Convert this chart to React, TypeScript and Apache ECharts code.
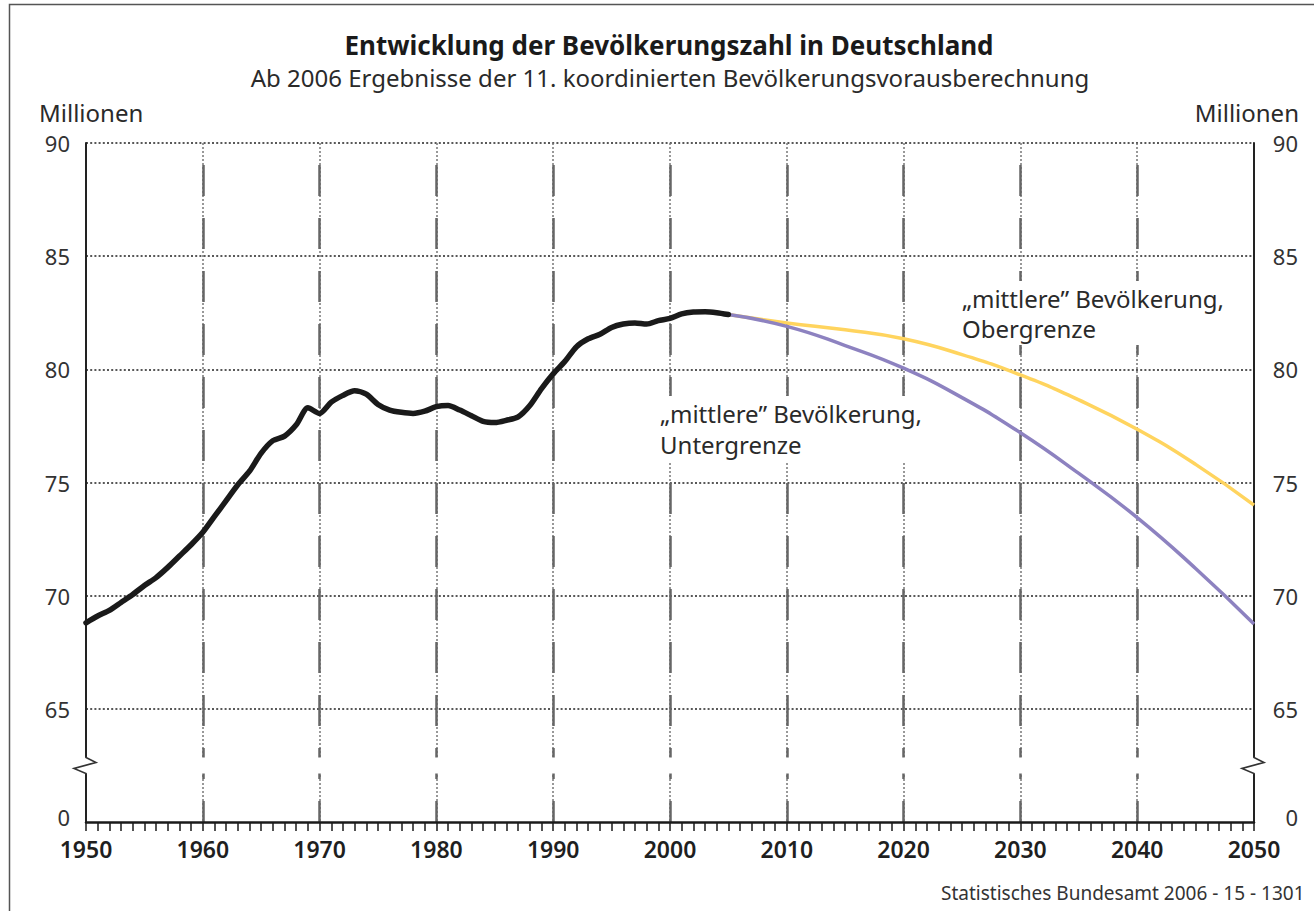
import { useEffect, useRef } from "react";
import * as echarts from "echarts";

// ---------- data ----------
const histYears = [
  1950, 1951, 1952, 1953, 1954, 1955, 1956, 1957, 1958, 1959,
  1960, 1961, 1962, 1963, 1964, 1965, 1966, 1967, 1968, 1969,
  1970, 1971, 1972, 1973, 1974, 1975, 1976, 1977, 1978, 1979,
  1980, 1981, 1982, 1983, 1984, 1985, 1986, 1987, 1988, 1989,
  1990, 1991, 1992, 1993, 1994, 1995, 1996, 1997, 1998, 1999,
  2000, 2001, 2002, 2003, 2004, 2005,
];
const histValues = [
  68.8, 69.1, 69.35, 69.7, 70.05, 70.45, 70.8, 71.25, 71.75, 72.25,
  72.8, 73.5, 74.2, 74.9, 75.5, 76.3, 76.85, 77.05, 77.55, 78.3,
  78.05, 78.55, 78.85, 79.05, 78.9, 78.45, 78.2, 78.1, 78.05, 78.15,
  78.35, 78.4, 78.2, 77.95, 77.7, 77.65, 77.75, 77.9, 78.4, 79.15,
  79.8, 80.35, 81.0, 81.35, 81.55, 81.85, 82.0, 82.05, 82.0, 82.15,
  82.25, 82.45, 82.53, 82.54, 82.5, 82.42,
];
const projYears = [2005, 2010, 2015, 2020, 2025, 2030, 2035, 2040, 2045, 2050];
const lowerValues = [82.42, 81.9, 81.05, 80.05, 78.75, 77.2, 75.4, 73.45, 71.2, 68.75];
const upperValues = [82.42, 82.05, 81.75, 81.35, 80.65, 79.75, 78.65, 77.35, 75.8, 74.0];

const yMin = 60; // shown as "0" (broken axis)
const yMax = 90;
const yStep = 5;
const xMin = 1950;
const xMax = 2050;
const xStep = 10;

const titleText = "Entwicklung der Bevölkerungszahl in Deutschland";
const subtitleText = "Ab 2006 Ergebnisse der 11. koordinierten Bevölkerungsvorausberechnung";
const unitText = "Millionen";
const lowerLabel = "„mittlere” Bevölkerung,\nUntergrenze";
const upperLabel = "„mittlere” Bevölkerung,\nObergrenze";
const sourceText = "Statistisches Bundesamt 2006 - 15 - 1301";

const FONT = "'Noto Sans', 'Open Sans', sans-serif";

const pairs = (xs: number[], ys: number[]) => xs.map((x, i) => [x, ys[i]]);

export default function App() {
  const ref = useRef<HTMLDivElement>(null);

  useEffect(() => {
    if (!ref.current) return;
    const chart = echarts.init(ref.current, undefined, { renderer: "svg" });

    const yLabel = (v: number) => (v === yMin ? "{z|0}" : String(v));
    const yRich = {
      z: { fontSize: 22, color: "#333", fontFamily: FONT, padding: [0, 0, 10, 0] },
    };

    const option: any = {
      animation: false,
      backgroundColor: "#ffffff",
      grid: { left: 86, right: 60, top: 143, bottom: 89, containLabel: false },
      xAxis: [
        {
          type: "value",
          min: xMin,
          max: xMax,
          interval: xStep,
          position: "bottom",
          axisLine: { show: true, onZero: false, lineStyle: { color: "#1a1a1a", width: 2.5 } },
          axisTick: { show: true, length: 9, lineStyle: { color: "#1a1a1a", width: 1.5 } },
          minorTick: { show: true, splitNumber: 10, length: 9, lineStyle: { color: "#1a1a1a", width: 1.5 } },
          axisLabel: {
            margin: 17,
            fontSize: 23,
            lineHeight: 20,
            fontWeight: 600,
            color: "#1f1f1f",
            fontFamily: FONT,
            formatter: (v: number) => String(v),
          },
          splitLine: {
            show: true,
            showMinLine: false,
            showMaxLine: false,
            lineStyle: { color: "#777777", width: 1.5, type: [2, 2] },
          },
        },
        {
          type: "value",
          min: xMin,
          max: xMax,
          interval: xStep,
          position: "top",
          axisLine: { show: false },
          axisTick: { show: false },
          axisLabel: { show: false },
          splitLine: {
            show: true,
            showMinLine: false,
            showMaxLine: false,
            lineStyle: { color: "#666666", width: 2.5, type: [31, 22], dashOffset: 31 },
          },
        },
      ],
      yAxis: [
        {
          type: "value",
          min: yMin,
          max: yMax,
          interval: yStep,
          position: "left",
          axisLine: { show: true, lineStyle: { color: "#222", width: 2 } },
          axisTick: { show: false },
          axisLabel: {
            margin: 16,
            fontSize: 22,
            lineHeight: 16,
            color: "#333",
            fontFamily: FONT,
            formatter: yLabel,
            rich: yRich,
          },
          splitLine: {
            show: true,
            showMinLine: false,
            lineStyle: { color: "#222", width: 1.5, type: [2, 2.2] },
          },
        },
        {
          type: "value",
          min: yMin,
          max: yMax,
          interval: yStep,
          position: "right",
          axisLine: { show: true, lineStyle: { color: "#222", width: 2 } },
          axisTick: { show: false },
          axisLabel: {
            margin: 44,
            align: "right",
            fontSize: 22,
            lineHeight: 16,
            color: "#333",
            fontFamily: FONT,
            formatter: yLabel,
            rich: yRich,
          },
          splitLine: { show: false },
        },
      ],
      series: [
        {
          name: "Obergrenze",
          type: "line",
          xAxisIndex: 0,
          yAxisIndex: 0,
          data: pairs(projYears, upperValues),
          smooth: true,
          showSymbol: false,
          z: 2,
          lineStyle: { color: "#ffd45e", width: 3.5 },
        },
        {
          name: "Untergrenze",
          type: "line",
          xAxisIndex: 0,
          yAxisIndex: 0,
          data: pairs(projYears, lowerValues),
          smooth: true,
          showSymbol: false,
          z: 3,
          lineStyle: { color: "#8d82c0", width: 3.5 },
        },
        {
          name: "Bevölkerung",
          type: "line",
          xAxisIndex: 0,
          yAxisIndex: 0,
          data: pairs(histYears, histValues),
          smooth: 0.25,
          showSymbol: false,
          z: 4,
          lineStyle: { color: "#1a1a1a", width: 5.5, cap: "round", join: "round" },
        },
      ],
    };

    chart.setOption(option);

    const yb = chart.convertToPixel({ yAxisIndex: 0 }, yMin + yStep / 2) as number;
    const xl = chart.convertToPixel({ xAxisIndex: 0 }, xMin) as number;
    const xr = chart.convertToPixel({ xAxisIndex: 0 }, xMax) as number;

    const zig = (ax: number) => ({
      type: "polyline",
      z: 11,
      silent: true,
      shape: {
        points: [
          [ax, yb - 9],
          [ax, yb - 8],
          [ax + 10, yb - 3],
          [ax - 12, yb + 3],
          [ax, yb + 8],
          [ax, yb + 9],
        ],
      },
      style: { stroke: "#333", lineWidth: 1.6, fill: "none" },
    });

    chart.setOption({
      graphic: [
        {
          type: "rect",
          z: 0,
          silent: true,
          shape: { x: 9.5, y: 4.5, width: 1400, height: 1000 },
          style: { fill: "none", stroke: "#555", lineWidth: 1.5 },
        },
        {
          type: "text",
          x: 669,
          y: 45,
          z: 10,
          style: {
            text: titleText,
            fontSize: 26,
            fontWeight: "bold",
            fontFamily: FONT,
            fill: "#1a1a1a",
            align: "center",
            verticalAlign: "middle",
          },
        },
        {
          type: "text",
          x: 670,
          y: 77,
          z: 10,
          style: {
            text: subtitleText,
            fontSize: 24,
            fontFamily: FONT,
            fill: "#2a2a2a",
            align: "center",
            verticalAlign: "middle",
          },
        },
        {
          type: "text",
          x: 39,
          y: 112,
          z: 10,
          style: { text: unitText, fontSize: 24, fontFamily: FONT, fill: "#2a2a2a", align: "left", verticalAlign: "middle" },
        },
        {
          type: "text",
          x: 1299,
          y: 112,
          z: 10,
          style: { text: unitText, fontSize: 24, fontFamily: FONT, fill: "#2a2a2a", align: "right", verticalAlign: "middle" },
        },
        {
          type: "text",
          x: 654,
          y: 396,
          z: 5,
          style: {
            text: lowerLabel,
            fontSize: 24,
            lineHeight: 31,
            fontFamily: FONT,
            fill: "#2a2a2a",
            align: "left",
            verticalAlign: "top",
            backgroundColor: "#ffffff",
            padding: [2, 6, 2, 6],
          },
        },
        {
          type: "text",
          x: 956,
          y: 281,
          z: 5,
          style: {
            text: upperLabel,
            fontSize: 24,
            lineHeight: 30,
            fontFamily: FONT,
            fill: "#2a2a2a",
            align: "left",
            verticalAlign: "top",
            backgroundColor: "#ffffff",
            padding: [2, 6, 2, 6],
          },
        },
        {
          type: "text",
          x: 941,
          y: 893,
          z: 10,
          style: { text: sourceText, fontSize: 19, fontFamily: FONT, fill: "#333", align: "left", verticalAlign: "middle" },
        },
        {
          type: "rect",
          z: 10,
          silent: true,
          shape: { x: xl - 3, y: yb - 8, width: xr - xl + 6, height: 16 },
          style: { fill: "#ffffff", stroke: "none" },
        },
        zig(xl),
        zig(xr),
      ],
    });

    return () => chart.dispose();
  }, []);

  return (
    <div
      ref={ref}
      style={{ position: "fixed", left: 0, top: 0, width: 1314, height: 911, background: "#fff" }}
    />
  );
}
